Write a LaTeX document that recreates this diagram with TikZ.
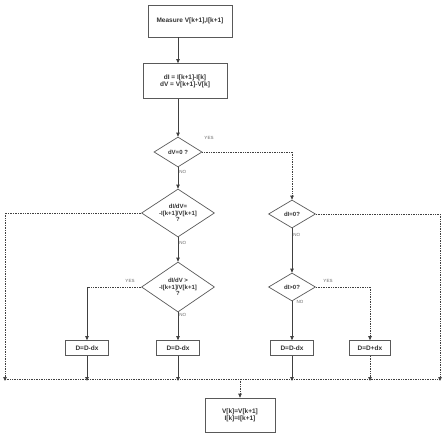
\documentclass[tikz,border=0pt]{standalone}
\usepackage{fontspec}
\setmainfont{Liberation Sans}
\usetikzlibrary{shapes.geometric,arrows.meta}

\begin{document}
\begin{tikzpicture}[
  x=1pt, y=-1pt,
  every node/.style={font=\fontsize{6.5}{7}\selectfont\bfseries, text=black!80, align=center},
  box/.style={rectangle, draw=black!65, line width=0.7pt, inner sep=1pt},
  dec/.style={diamond, draw=black!65, line width=0.7pt, inner sep=0pt, aspect=1.6, font=\fontsize{6}{6.5}\selectfont\bfseries},
  lbl/.style={font=\fontsize{4.5}{5}\selectfont, text=black!60, inner sep=1pt},
  flow/.style={line width=0.8pt, draw=black!75, -{Triangle[length=4pt,width=3.5pt]}},
  dline/.style={line width=0.7pt, draw=black!75, densely dotted}
]
  \useasboundingbox (0,0) rectangle (445,434);

  % Bloques de medida y diferencias
  \node[box, minimum width=84pt, minimum height=32pt] (measure) at (190,21) {Measure V[k+1],I[k+1]};
  \node[box, minimum width=84pt, minimum height=35pt] (diff) at (185,81) {dI = I[k+1]-I[k]\\dV = V[k+1]-V[k]};

  % Decisiones
  \node[dec, minimum width=48pt, minimum height=30pt] (dvzero) at (178,152) {dV=0 ?};
  \node[dec, minimum width=73pt, minimum height=48pt] (slope) at (178,213) {dI/dV=\\-I[k+1]/V[k+1]\\?};
  \node[dec, minimum width=73pt, minimum height=50pt] (slopegt) at (178,287) {dI/dV >\\-I[k+1]/V[k+1]\\?};
  \node[dec, minimum width=47pt, minimum height=28pt] (dizero) at (292,214) {dI=0?};
  \node[dec, minimum width=47pt, minimum height=28pt] (dipos) at (292,287) {dI>0?};

  % Bloques de ajuste
  \node[box, minimum width=43pt, minimum height=15pt] (decA) at (87,348) {D=D-dx};
  \node[box, minimum width=43pt, minimum height=15pt] (decB) at (178,348) {D=D-dx};
  \node[box, minimum width=43pt, minimum height=15pt] (decC) at (292,348) {D=D-dx};
  \node[box, minimum width=41pt, minimum height=15pt] (incD) at (370,348) {D=D+dx};

  % Actualizacion
  \node[box, minimum width=70pt, minimum height=34pt] (update) at (240,415) {V[k]=V[k+1]\\I[k]=I[k+1]};

  % Puntos de la linea de retorno
  \coordinate (jl) at (5,379);
  \coordinate (jr) at (440,379);
  \coordinate (jm) at (240,379);
  \coordinate (ya) at (87,287);
  \coordinate (yd) at (370,287);

  % Flujo principal
  \draw[flow] (measure.south -| dvzero.north) -- (diff.north -| dvzero.north);
  \draw[flow] (diff.south -| dvzero.north) -- (dvzero.north);
  \draw[flow] (dvzero.south) -- node[lbl, right, pos=0.2] {NO} (slope.north);
  \draw[flow] (slope.south) -- node[lbl, right, pos=0.25] {NO} (slopegt.north);
  \draw[flow] (slopegt.south) -- node[lbl, right, pos=0.1] {NO} (decB.north);

  % dV=0 -> dI=0?
  \node[lbl] (yes1) at (209,138) {YES};
  \draw[dline] (dvzero.east) -- (dvzero.east -| dizero.north);
  \draw[dline, -{Triangle[length=4pt,width=3.5pt]}] (dvzero.east -| dizero.north) -- (dizero.north);
  \draw[flow] (dizero.south) -- node[lbl, right, pos=0.15] {NO} (dipos.north);

  % Rama YES de dI/dV >
  \node[lbl] (yes2) at (130,281) {YES};
  \draw[dline] (slopegt.west) -- (ya);
  \draw[flow] (ya) -- (decA.north);

  % Rama dI>0?
  \node[lbl] (yes3) at (328,281) {YES};
  \node[lbl] (no4) at (300,302) {NO};
  \draw[flow] (dipos.south) -- (decC.north);
  \draw[dline] (dipos.east) -- (yd);
  \draw[dline, -{Triangle[length=4pt,width=3.5pt]}] (yd) -- (incD.north);

  % Retornos a la linea inferior
  \draw[dline] (slope.west) -- (slope.west -| jl);
  \draw[dline, -{Triangle[length=4pt,width=3.5pt]}] (slope.west -| jl) -- ([yshift=-2pt]jl);
  \draw[dline] (dizero.east) -- (dizero.east -| jr);
  \draw[dline, -{Triangle[length=4pt,width=3.5pt]}] (dizero.east -| jr) -- ([yshift=-2pt]jr);
  \draw[flow] (decA.south) -- ([yshift=-2pt]decA.south |- jl);
  \draw[flow] (decB.south) -- ([yshift=-2pt]decB.south |- jl);
  \draw[flow] (decC.south) -- ([yshift=-2pt]decC.south |- jl);
  \draw[dline, -{Triangle[length=4pt,width=3.5pt]}] (incD.south) -- ([yshift=-2pt]incD.south |- jl);
  \draw[dline] (jl) -- (jr);
  \draw[dline, -{Triangle[length=4pt,width=3.5pt]}] (jm) -- (update.north);

\end{tikzpicture}
\end{document}
